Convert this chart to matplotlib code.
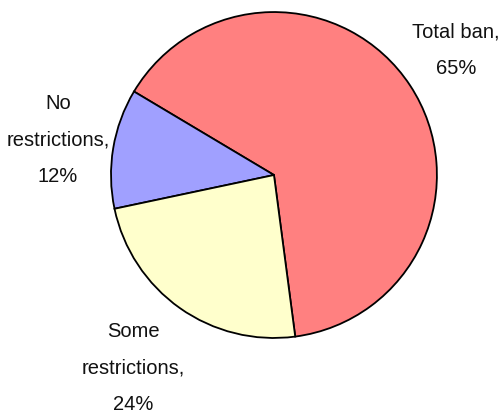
import matplotlib.pyplot as plt
from matplotlib import font_manager

# Pie data
labels = ['Total ban,\n65%', 'No\nrestrictions,\n12%', 'Some\nrestrictions,\n24%']
shares = [65, 12, 24]
colors = ['#FF8080', '#A0A0FF', '#FFFFCC']

# label positions (data units, pie radius = 1)
label_pos = [(1.117, 0.767), (-1.325, 0.215), (-0.865, -1.185)]

names = {f.name for f in font_manager.fontManager.ttflist}
font = 'Liberation Sans Narrow' if 'Liberation Sans Narrow' in names else 'Liberation Sans'

fig = plt.figure(figsize=(5, 4.17), dpi=100)
ax = fig.add_axes([0, 0, 1, 1])

ax.pie(shares, colors=colors, startangle=-82.5, counterclock=True,
       wedgeprops=dict(edgecolor='black', linewidth=1.3), radius=1)

for txt, (x, y) in zip(labels, label_pos):
    ax.text(x, y, txt, ha='center', va='center', fontsize=14.5,
            family=font, linespacing=2.15, color='#111111')

ax.set_xlim(-1.681, 1.387)
ax.set_ylim(-1.485, 1.074)
ax.set_aspect('equal')
ax.axis('off')

fig.savefig('out.png', dpi=100)
